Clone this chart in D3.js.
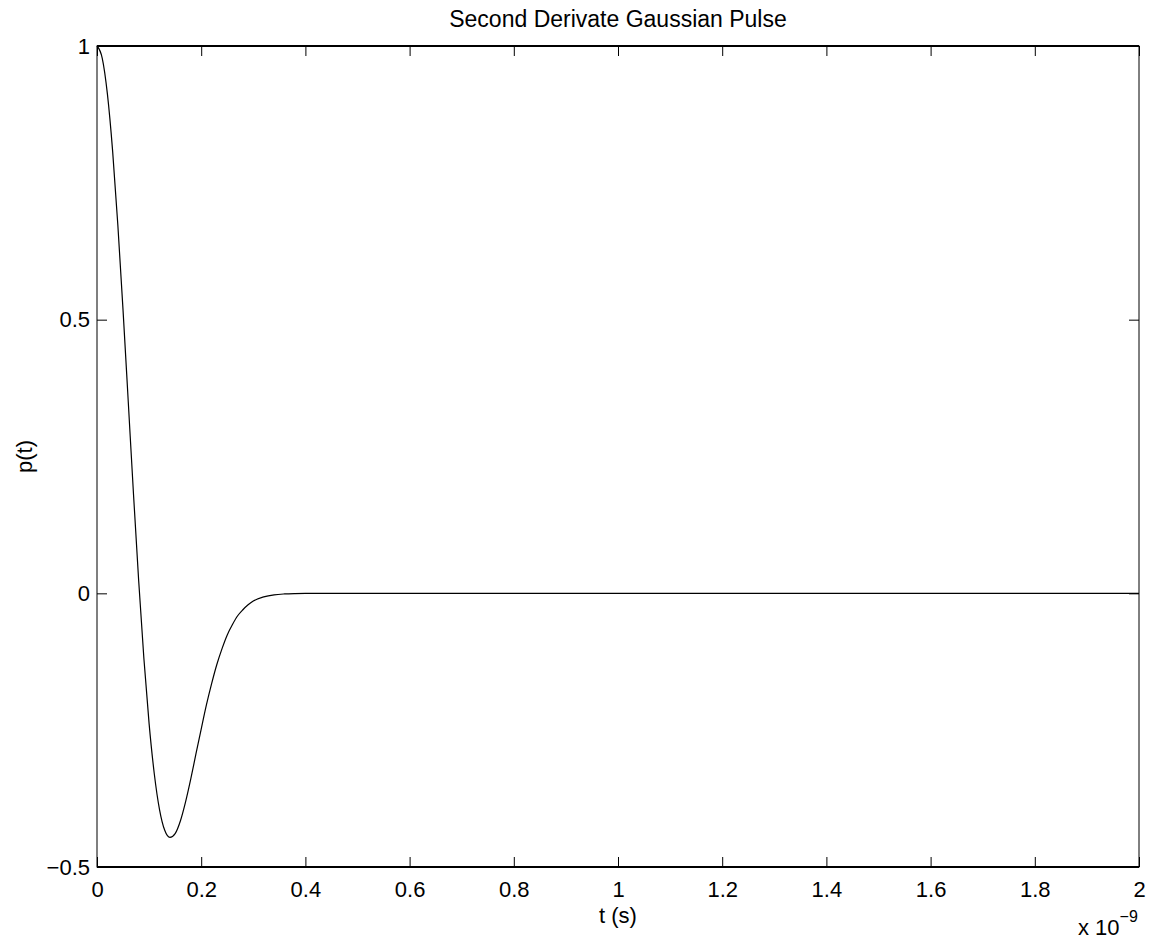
<!DOCTYPE html>
<html>
<head>
<meta charset="utf-8">
<script src="https://cdn.jsdelivr.net/npm/d3@7"></script>
<style>
  html, body { margin: 0; padding: 0; background: #fff; }
  svg { display: block; font-family: "Liberation Sans", Arial, Helvetica, sans-serif; }
</style>
</head>
<body>
<svg id="chart" width="1163" height="945"></svg>
<script>
// time in units of 1e-9 s
const tValues = [0, 0.01, 0.02, 0.03, 0.04, 0.05, 0.06, 0.07, 0.08, 0.09,
  0.10, 0.11, 0.12, 0.13, 0.14, 0.15, 0.16, 0.17, 0.18, 0.19,
  0.20, 0.21, 0.22, 0.23, 0.24, 0.25, 0.26, 0.27, 0.28, 0.29,
  0.30, 0.32, 0.34, 0.36, 0.38, 0.40, 0.45, 0.6, 1.0, 1.5, 2.0];
const pValues = [1.000, 0.978, 0.912, 0.808, 0.673, 0.517, 0.350, 0.182, 0.023, -0.119,
  -0.238, -0.330, -0.395, -0.433, -0.446, -0.439, -0.416, -0.381, -0.339, -0.293,
  -0.248, -0.204, -0.165, -0.130, -0.101, -0.076, -0.057, -0.041, -0.030, -0.021,
  -0.014, -0.0065, -0.0027, -0.0011, -0.0004, -0.0001, 0, 0, 0, 0, 0];
const xTicks = [0, 0.2, 0.4, 0.6, 0.8, 1, 1.2, 1.4, 1.6, 1.8, 2];
const yTicks = [-0.5, 0, 0.5, 1];
const titleText = "Second Derivate Gaussian Pulse";
const xLabelText = "t (s)";
const yLabelText = "p(t)";

(function () {
const svg = d3.select("#chart");
const mLeft = 97, mRight = 1139, mTop = 46, mBottom = 867;
const x = d3.scaleLinear().domain([0, 2]).range([mLeft, mRight]);
const y = d3.scaleLinear().domain([-0.5, 1]).range([mBottom, mTop]);
const tickFont = 22, labelFont = 22, titleFont = 23;

// box
svg.append("rect").attr("x", mLeft).attr("y", mTop)
  .attr("width", mRight - mLeft).attr("height", mBottom - mTop)
  .attr("fill", "none").attr("stroke", "#000").attr("stroke-width", 1);
svg.append("line").attr("x1", mLeft).attr("x2", mRight).attr("y1", mTop).attr("y2", mTop)
  .attr("stroke", "#000").attr("stroke-width", 2);
svg.append("line").attr("x1", mLeft).attr("x2", mRight).attr("y1", mBottom).attr("y2", mBottom)
  .attr("stroke", "#000").attr("stroke-width", 2);

const fmt = d3.format("");
const styleAxis = g => {
  g.select(".domain").remove();
  g.selectAll(".tick line").attr("stroke", "#000").attr("stroke-width", 1);
  g.selectAll("text").attr("fill", "#000").style("font-size", tickFont + "px")
    .style("font-family", '"Liberation Sans", Arial, Helvetica, sans-serif');
};

svg.append("g").attr("transform", `translate(0,${mBottom})`)
  .call(d3.axisBottom(x).tickValues(xTicks).tickFormat(fmt).tickSizeInner(-10).tickSizeOuter(0).tickPadding(14))
  .call(styleAxis);
svg.append("g").attr("transform", `translate(0,${mTop})`)
  .call(d3.axisTop(x).tickValues(xTicks).tickFormat("").tickSizeInner(-10).tickSizeOuter(0))
  .call(styleAxis);
svg.append("g").attr("transform", `translate(${mLeft},0)`)
  .call(d3.axisLeft(y).tickValues(yTicks).tickFormat(fmt).tickSizeInner(-10).tickSizeOuter(0).tickPadding(7))
  .call(styleAxis);
svg.append("g").attr("transform", `translate(${mRight},0)`)
  .call(d3.axisRight(y).tickValues(yTicks).tickFormat("").tickSizeInner(-10).tickSizeOuter(0))
  .call(styleAxis);

// curve
const data = tValues.map((t, i) => [t, pValues[i]]);
svg.append("path").datum(data)
  .attr("fill", "none").attr("stroke", "#000").attr("stroke-width", 1.2)
  .attr("d", d3.line().x(d => x(d[0])).y(d => y(d[1])).curve(d3.curveMonotoneX));

// title and labels
svg.append("text").attr("x", (mLeft + mRight) / 2).attr("y", 27)
  .attr("text-anchor", "middle").style("font-size", titleFont + "px").text(titleText);
svg.append("text").attr("x", (mLeft + mRight) / 2).attr("y", 923)
  .attr("text-anchor", "middle").style("font-size", labelFont + "px").text(xLabelText);
svg.append("text").attr("transform", `translate(32,${(mTop + mBottom) / 2}) rotate(-90)`)
  .attr("text-anchor", "middle").style("font-size", labelFont + "px").text(yLabelText);

// exponent
const ex = svg.append("text").attr("x", 1078).attr("y", 935).style("font-size", labelFont + "px");
ex.append("tspan").text("x 10");
ex.append("tspan").attr("dy", -13).style("font-size", "16px").text("\u22129");
})();
</script>
</body>
</html>
